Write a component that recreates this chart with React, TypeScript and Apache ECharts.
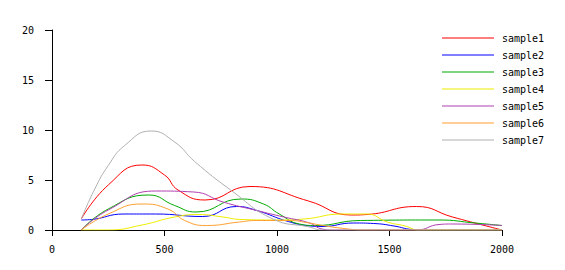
import React, { useEffect, useRef } from "react";
import * as echarts from "echarts";

const seriesNames = ["sample1", "sample2", "sample3", "sample4", "sample5", "sample6", "sample7"];
const seriesColors = ["#ff0000", "#0000ff", "#00aa00", "#eeee00", "#b040b0", "#ffa030", "#b0b0b0"];

const xTicks = [0, 500, 1000, 1500, 2000];
const yTicks = [0, 5, 10, 15, 20];

const sample1: [number, number][] = [
  [130, 1.1], [250, 4.5], [400, 6.5], [500, 5.5], [560, 4.0], [680, 3.0], [880, 4.35],
  [1140, 2.9], [1330, 1.5], [1400, 1.55], [1620, 2.35], [1780, 1.3], [2000, 0],
];
const sample2: [number, number][] = [
  [130, 1.0], [175, 1.05], [320, 1.6], [460, 1.6], [670, 1.35], [820, 2.35], [910, 1.95],
  [1050, 0.85], [1150, 0.4], [1200, 0.35], [1340, 0.7], [1430, 0.65], [1520, 0.4],
  [1600, 0.05], [1650, 0], [2000, 0],
];
const sample3: [number, number][] = [
  [130, 0], [250, 2.1], [430, 3.5], [545, 2.45], [640, 1.8], [840, 3.1], [940, 2.6],
  [1010, 1.6], [1100, 0.6], [1170, 0.45], [1370, 0.95], [1720, 1.0], [1880, 0.7], [2000, 0.45],
];
const sample4: [number, number][] = [
  [130, 0], [250, 0], [400, 0.5], [545, 1.3], [650, 1.55], [760, 1.3], [840, 1.05],
  [1000, 1.0], [1120, 1.1], [1290, 1.6], [1400, 1.6], [1490, 0.8], [1570, 0.4], [1630, 0], [2000, 0],
];
const sample5: [number, number][] = [
  [130, 0], [250, 2.0], [460, 3.9], [630, 3.8], [760, 2.8], [910, 1.95], [1030, 1.3],
  [1145, 0.7], [1200, 0.1], [1250, 0], [1620, 0], [1720, 0.55], [1780, 0.6], [2000, 0.45],
];
const sample6: [number, number][] = [
  [130, 0], [250, 1.6], [400, 2.6], [515, 2.1], [590, 0.95], [686, 0.45], [833, 0.8],
  [908, 0.95], [1056, 0.95], [1130, 0.75], [1204, 0.45], [1280, 0.2], [1390, 0], [2000, 0],
];
const sample7: [number, number][] = [
  [130, 1.1], [190, 4.1], [250, 6.45], [323, 8.45], [440, 9.9], [545, 8.8], [634, 6.85],
  [797, 3.95], [982, 1.1], [1144, 0.3], [1200, 0], [2000, 0],
];

const allSeries = [sample1, sample2, sample3, sample4, sample5, sample6, sample7];

const FONT = "DejaVu Sans Mono";

export default function App() {
  const ref = useRef<HTMLDivElement>(null);
  useEffect(() => {
    if (!ref.current) return;
    const chart = echarts.init(ref.current, undefined, { renderer: "svg" });
    chart.setOption({
      animation: false,
      backgroundColor: "#ffffff",
      grid: { left: 52, right: 63, top: 30, bottom: 40, containLabel: false },
      legend: {
        orient: "vertical",
        left: 437,
        top: 28,
        itemWidth: 52,
        itemHeight: 14,
        itemGap: 7,
        icon: "path://M0,7 L52,7 L52,8 L0,8 Z",
        textStyle: { fontFamily: FONT, fontSize: 10, color: "#000", padding: [0, 0, 0, 3] },
        data: seriesNames.map((n) => ({ name: n })),
      },
      xAxis: {
        type: "value",
        min: xTicks[0],
        max: xTicks[xTicks.length - 1],
        interval: 500,
        axisLine: { show: true, lineStyle: { color: "#000", width: 1 } },
        axisTick: { show: true, length: 6, lineStyle: { color: "#000" } },
        axisLabel: {
          margin: 14,
          fontFamily: FONT,
          fontSize: 10,
          color: "#000",
          formatter: (v: number) => String(v),
        },
        splitLine: { show: false },
      },
      yAxis: {
        type: "value",
        min: yTicks[0],
        max: yTicks[yTicks.length - 1],
        interval: 5,
        axisLine: { show: true, lineStyle: { color: "#000", width: 1 } },
        axisTick: { show: true, length: 7, lineStyle: { color: "#000" } },
        axisLabel: {
          margin: 18,
          fontFamily: FONT,
          fontSize: 10,
          color: "#000",
          formatter: (v: number) => String(v),
        },
        splitLine: { show: false },
      },
      series: allSeries.map((d, i) => ({
        name: seriesNames[i],
        type: "line",
        data: d,
        smooth: 0.5,
        symbol: "none",
        showSymbol: false,
        color: seriesColors[i],
        itemStyle: { color: seriesColors[i] },
        lineStyle: { color: seriesColors[i], width: 1 },
        z: 2 + i,
      })),
    });
    return () => chart.dispose();
  }, []);
  return (
    <div
      ref={ref}
      style={{ position: "absolute", left: 0, top: 0, width: 565, height: 270, background: "#fff" }}
    />
  );
}
